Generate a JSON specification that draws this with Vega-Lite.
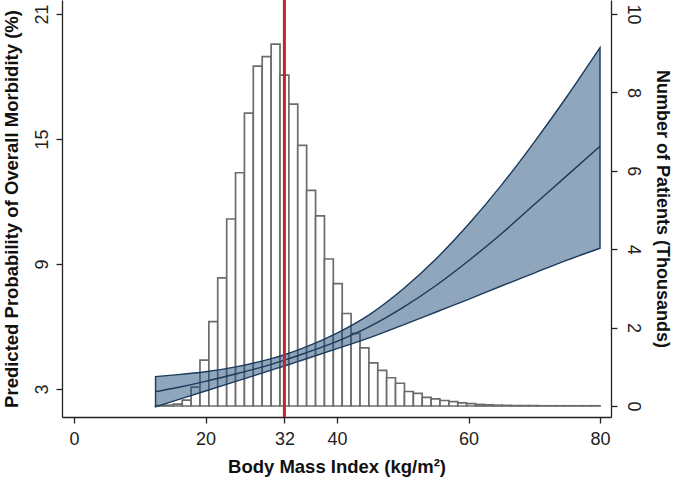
{
  "$schema": "https://vega.github.io/schema/vega-lite/v6.json",
  "autosize": "none",
  "width": 549,
  "height": 417,
  "padding": {"left": 62, "top": 0, "right": 63, "bottom": 62},
  "background": "white",
  "config": {
    "view": {"stroke": null},
    "font": "Liberation Sans",
    "axis": {
      "grid": false,
      "domainColor": "#222222",
      "domainWidth": 1.3,
      "tickColor": "#222222",
      "tickWidth": 1.3,
      "tickSize": 6,
      "labelColor": "#222222",
      "labelFont": "Liberation Sans",
      "labelFontSize": 18,
      "titleFont": "Liberation Sans",
      "titleFontSize": 18.5,
      "titleFontWeight": "bold",
      "titleColor": "#111111"
    }
  },
  "datasets": {
    "hist": [
      {"bin_start": 12.40, "bin_end": 13.75, "patients": 0.01},
      {"bin_start": 13.75, "bin_end": 15.10, "patients": 0.02},
      {"bin_start": 15.10, "bin_end": 16.46, "patients": 0.05},
      {"bin_start": 16.46, "bin_end": 17.81, "patients": 0.15},
      {"bin_start": 17.81, "bin_end": 19.16, "patients": 0.48},
      {"bin_start": 19.16, "bin_end": 20.51, "patients": 1.17},
      {"bin_start": 20.51, "bin_end": 21.86, "patients": 2.15},
      {"bin_start": 21.86, "bin_end": 23.22, "patients": 3.27},
      {"bin_start": 23.22, "bin_end": 24.57, "patients": 4.77},
      {"bin_start": 24.57, "bin_end": 25.92, "patients": 5.95},
      {"bin_start": 25.92, "bin_end": 27.27, "patients": 7.47},
      {"bin_start": 27.27, "bin_end": 28.62, "patients": 8.67},
      {"bin_start": 28.62, "bin_end": 29.98, "patients": 8.91},
      {"bin_start": 29.98, "bin_end": 31.33, "patients": 9.23},
      {"bin_start": 31.33, "bin_end": 32.68, "patients": 8.44},
      {"bin_start": 32.68, "bin_end": 34.03, "patients": 7.70},
      {"bin_start": 34.03, "bin_end": 35.38, "patients": 6.65},
      {"bin_start": 35.38, "bin_end": 36.74, "patients": 5.50},
      {"bin_start": 36.74, "bin_end": 38.09, "patients": 4.85},
      {"bin_start": 38.09, "bin_end": 39.44, "patients": 3.75},
      {"bin_start": 39.44, "bin_end": 40.79, "patients": 3.12},
      {"bin_start": 40.79, "bin_end": 42.14, "patients": 2.36},
      {"bin_start": 42.14, "bin_end": 43.50, "patients": 1.85},
      {"bin_start": 43.50, "bin_end": 44.85, "patients": 1.48},
      {"bin_start": 44.85, "bin_end": 46.20, "patients": 1.10},
      {"bin_start": 46.20, "bin_end": 47.55, "patients": 0.91},
      {"bin_start": 47.55, "bin_end": 48.90, "patients": 0.72},
      {"bin_start": 48.90, "bin_end": 50.26, "patients": 0.58},
      {"bin_start": 50.26, "bin_end": 51.61, "patients": 0.37},
      {"bin_start": 51.61, "bin_end": 52.96, "patients": 0.32},
      {"bin_start": 52.96, "bin_end": 54.31, "patients": 0.22},
      {"bin_start": 54.31, "bin_end": 55.66, "patients": 0.18},
      {"bin_start": 55.66, "bin_end": 57.02, "patients": 0.14},
      {"bin_start": 57.02, "bin_end": 58.37, "patients": 0.11},
      {"bin_start": 58.37, "bin_end": 59.72, "patients": 0.08},
      {"bin_start": 59.72, "bin_end": 61.07, "patients": 0.06},
      {"bin_start": 61.07, "bin_end": 62.42, "patients": 0.04},
      {"bin_start": 62.42, "bin_end": 63.78, "patients": 0.03},
      {"bin_start": 63.78, "bin_end": 65.13, "patients": 0.02},
      {"bin_start": 65.13, "bin_end": 66.48, "patients": 0.015},
      {"bin_start": 66.48, "bin_end": 67.83, "patients": 0.01},
      {"bin_start": 67.83, "bin_end": 69.18, "patients": 0.01},
      {"bin_start": 69.18, "bin_end": 70.54, "patients": 0.01},
      {"bin_start": 70.54, "bin_end": 71.89, "patients": 0.005},
      {"bin_start": 71.89, "bin_end": 73.24, "patients": 0.005},
      {"bin_start": 73.24, "bin_end": 74.59, "patients": 0.005},
      {"bin_start": 74.59, "bin_end": 75.94, "patients": 0.005},
      {"bin_start": 75.94, "bin_end": 77.30, "patients": 0.005},
      {"bin_start": 77.30, "bin_end": 78.65, "patients": 0.005},
      {"bin_start": 78.65, "bin_end": 80.00, "patients": 0.005}
    ],
    "pred": [
      {"bmi": 12.4, "lower": 2.14, "fit": 2.87, "upper": 3.59},
      {"bmi": 15, "lower": 2.40, "fit": 3.02, "upper": 3.66},
      {"bmi": 20, "lower": 2.90, "fit": 3.36, "upper": 3.82},
      {"bmi": 25, "lower": 3.40, "fit": 3.75, "upper": 4.08},
      {"bmi": 30, "lower": 3.90, "fit": 4.18, "upper": 4.45},
      {"bmi": 32, "lower": 4.10, "fit": 4.38, "upper": 4.64},
      {"bmi": 35, "lower": 4.41, "fit": 4.70, "upper": 4.98},
      {"bmi": 40, "lower": 4.93, "fit": 5.28, "upper": 5.68},
      {"bmi": 45, "lower": 5.46, "fit": 6.00, "upper": 6.58},
      {"bmi": 50, "lower": 6.06, "fit": 6.90, "upper": 7.78},
      {"bmi": 55, "lower": 6.68, "fit": 7.95, "upper": 9.22},
      {"bmi": 60, "lower": 7.30, "fit": 9.15, "upper": 10.90},
      {"bmi": 65, "lower": 7.94, "fit": 10.45, "upper": 12.78},
      {"bmi": 70, "lower": 8.56, "fit": 11.85, "upper": 14.85},
      {"bmi": 75, "lower": 9.18, "fit": 13.25, "upper": 17.05},
      {"bmi": 80, "lower": 9.75, "fit": 14.65, "upper": 19.38}
    ]
  },
  "layer": [
    {
      "data": {"name": "hist"},
      "mark": {"type": "rect", "fill": "white", "stroke": "#6c6c6c", "strokeWidth": 1.7},
      "encoding": {
        "x": {
          "field": "bin_start", "type": "quantitative",
          "scale": {"domain": [-1.825, 81.67], "nice": false, "zero": false},
          "axis": {
            "values": [0, 20, 32, 40, 60, 80],
            "title": "Body Mass Index (kg/m²)",
            "labelPadding": 7,
            "titlePadding": 9
          }
        },
        "x2": {"field": "bin_end"},
        "y": {
          "field": "patients", "type": "quantitative",
          "scale": {"domain": [-0.281, 10.357], "nice": false, "zero": false},
          "axis": {
            "orient": "right",
            "values": [0, 2, 4, 6, 8, 10],
            "title": "Number of Patients (Thousands)",
            "titleFontSize": 18,
            "labelAngle": 90,
            "labelAlign": "center",
            "labelBaseline": "bottom",
            "labelPadding": 6,
            "titlePadding": 11
          }
        },
        "y2": {"datum": 0}
      }
    },
    {
      "layer": [
        {
          "data": {"name": "pred"},
          "mark": {"type": "area", "interpolate": "monotone", "fill": "#1f4e79", "fillOpacity": 0.5, "stroke": "#1b3a5c", "strokeWidth": 1.4, "strokeOpacity": 1},
          "encoding": {
            "x": {"field": "bmi", "type": "quantitative"},
            "y": {
              "field": "lower", "type": "quantitative",
              "scale": {"domain": [1.65, 21.67], "nice": false, "zero": false},
              "axis": {
                "orient": "left",
                "values": [3, 9, 15, 21],
                "title": "Predicted Probability of Overall Morbidity (%)",
                "labelAngle": -90,
                "labelAlign": "center",
                "labelBaseline": "bottom",
                "labelPadding": 4.5,
                "titlePadding": 12
              }
            },
            "y2": {"field": "upper"}
          }
        },
        {
          "data": {"name": "pred"},
          "mark": {"type": "line", "color": "#1b3a5c", "strokeWidth": 1.4, "interpolate": "monotone"},
          "encoding": {
            "x": {"field": "bmi", "type": "quantitative"},
            "y": {"field": "fit", "type": "quantitative"}
          }
        },
        {
          "data": {"values": [{"bmi_ref": 32}]},
          "mark": {"type": "rule", "color": "#c0272d", "strokeWidth": 3},
          "encoding": {
            "x": {"field": "bmi_ref", "type": "quantitative"}
          }
        }
      ]
    }
  ],
  "resolve": {"scale": {"y": "independent"}}
}
